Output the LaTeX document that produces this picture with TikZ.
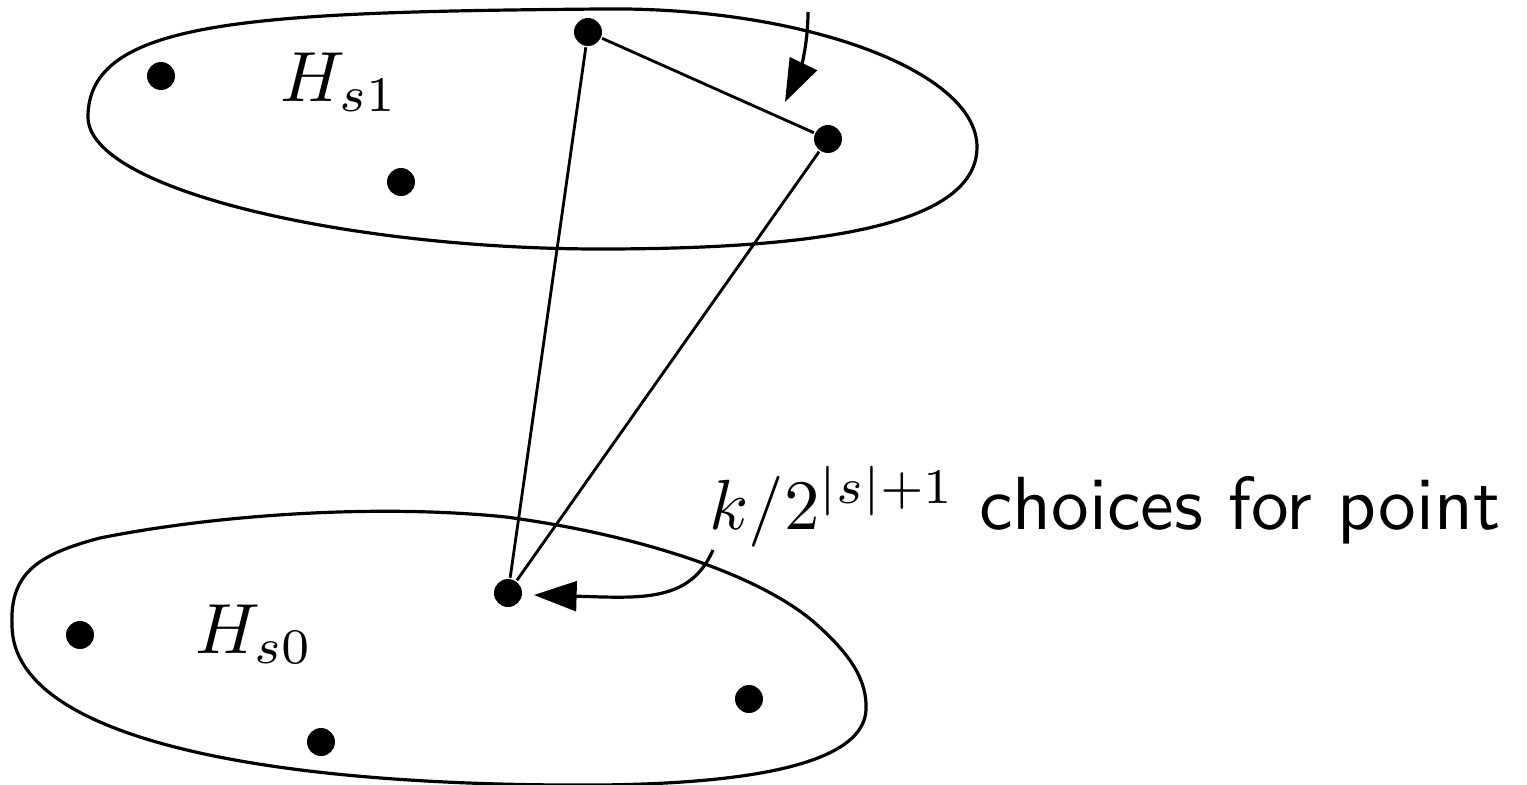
\documentclass[tikz,border=0pt]{standalone}
\usetikzlibrary{arrows.meta}
\begin{document}
\begin{tikzpicture}[x=0.1408pt,y=-0.1408pt,
  dot/.style={circle,fill=black,inner sep=0pt,minimum size=3.94pt},
  blob/.style={line width=0.45pt},
  edge/.style={line width=0.4pt},
  pointer/.style={line width=0.45pt,-{Triangle[length=6pt,width=4.2pt]}},
  lbl/.style={inner sep=0pt}]
\useasboundingbox (0,0) rectangle (1527,785);
% upper set
\draw[blob] (88,117) .. controls (88,20) and (250,12) .. (600,9)
  .. controls (800,6) and (977,70) .. (977,147)
  .. controls (977,230) and (800,249) .. (600,249)
  .. controls (350,249) and (88,190) .. cycle;
% lower set
\draw[blob] (12,625) .. controls (10,575) and (35,555) .. (100,538)
  .. controls (220,514) and (380,504) .. (506,517)
  .. controls (640,535) and (760,575) .. (815,623)
  .. controls (850,654) and (867.5,680) .. (866,710)
  .. controls (864,750) and (800,783) .. (600,785)
  .. controls (250,787) and (12,735) .. cycle;
% points
\node[dot] (a) at (161,76) {};
\node[dot] (b) at (401,182) {};
\node[dot] (c) at (588,32) {};
\node[dot] (d) at (828,139) {};
\node[dot] (e) at (508,593) {};
\node[dot] (f) at (80,635) {};
\node[dot] (g) at (321,742) {};
\node[dot] (h) at (749,699) {};
% labels
\node[lbl,anchor=base west] (hs1) at (279,101) {$H_{s1}$};
\node[lbl,anchor=base west] (hs0) at (194,653) {$H_{s0}$};
\node[lbl,anchor=base west] (lab) at (708,529) {$k/2^{|s|+1}$ {\fontsize{10.6}{12}\sffamily choices for point}};
% edges
\draw[edge] (c) -- (d);
\draw[edge] (c) -- (e);
\draw[edge] (d) -- (e);
% pointers
\coordinate (s1) at (808,12);
\coordinate (t1) at (785,102);
\draw[pointer] (s1) .. controls (808,50) and (798,75) .. (t1);
\coordinate (s2) at (713,550);
\coordinate (t2) at (534,595);
\draw[pointer] (s2) .. controls (690,603) and (640,598) .. (t2);
\end{tikzpicture}
\end{document}
